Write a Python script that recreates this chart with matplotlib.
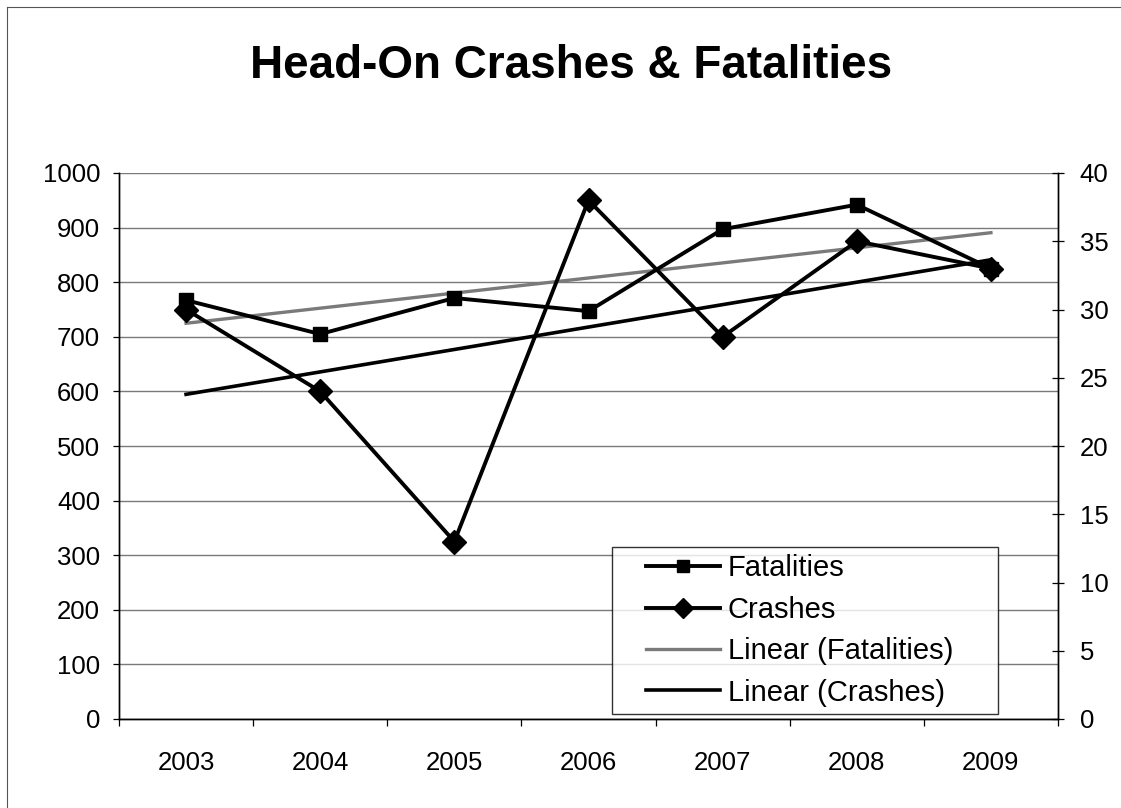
"""
Head-On Crashes & Fatalities, 2003-2009, two y axes with linear trend lines.
"""

import matplotlib
matplotlib.use('Agg')

import matplotlib.pyplot as plt
import numpy as np
from matplotlib.lines import Line2D
from matplotlib.legend_handler import HandlerLine2D

# --- Data ---
YEARS = ['2003', '2004', '2005', '2006', '2007', '2008', '2009']
FATALITIES = [767, 705, 771, 747, 897, 942, 825]   # left axis
CRASHES = [30, 24, 13, 38, 28, 35, 33]              # right axis

LEFT_TICKS = list(range(0, 1001, 100))
RIGHT_TICKS = list(range(0, 41, 5))

W, H = 1121, 808
plt.rcParams['font.family'] = ['Liberation Sans', 'DejaVu Sans']

fig = plt.figure(figsize=(W / 100, H / 100), dpi=100)
fig.patch.set_facecolor('white')

# plot area in pixels: x 119..1058, y 173..719
ax = fig.add_axes([119 / W, 1 - 719 / H, (1058 - 119) / W, (719 - 173) / H])
ax2 = ax.twinx()

x = np.arange(len(YEARS))

# --- series ---
ax.plot(x, FATALITIES, '-s', color='black', lw=2.8, ms=10,
        mfc='black', mec='black', label='Fatalities', zorder=4)
ax2.plot(x, CRASHES, '-D', color='black', lw=2.8, ms=12.5,
         mfc='black', mec='black', label='Crashes', zorder=4)

# Excel-style linear trend lines
fit_f = np.polyfit(x, FATALITIES, 1)
fit_c = np.polyfit(x, CRASHES, 1)
ax.plot(x, np.polyval(fit_f, x), color='#7a7a7a', lw=2.4,
        label='Linear (Fatalities)', zorder=3)
ax2.plot(x, np.polyval(fit_c, x), color='black', lw=2.6,
         label='Linear (Crashes)', zorder=3)

# --- axes ---
ax.set_xlim(-0.5, len(YEARS) - 0.5)
ax.set_ylim(0, 1000)
ax2.set_ylim(0, 40)

ax.set_yticks(LEFT_TICKS)
ax.set_yticklabels([str(v) for v in LEFT_TICKS])
ax2.set_yticks(RIGHT_TICKS)
ax2.set_yticklabels([str(v) for v in RIGHT_TICKS])

# category ticks between years, labels centred on years
ax.set_xticks(np.arange(-0.5, len(YEARS), 1.0))
ax.set_xticklabels([])
ax.set_xticks(x, minor=True)
ax.set_xticklabels(YEARS, minor=True)
ax.tick_params(axis='x', which='major', direction='out', length=5,
               width=0.9, color='black')
ax.tick_params(axis='x', which='minor', length=0, pad=23, labelsize=18.5)

ax.tick_params(axis='y', direction='out', length=4.5, width=0.9,
               pad=9, labelsize=18.5)
ax2.tick_params(axis='y', direction='inout', length=9, width=0.9,
                pad=11, labelsize=18.5)

ax.grid(True, axis='y', color='#7a7a7a', lw=1.0)
ax.set_axisbelow(True)

for a in (ax, ax2):
    a.spines['top'].set_visible(False)
    for s in ('left', 'right', 'bottom'):
        a.spines[s].set_color('black')
        a.spines[s].set_linewidth(1.0)
ax2.patch.set_visible(False)

# --- legend ---
handles = ax.get_lines()[:1] + ax2.get_lines()[:1] + \
    ax.get_lines()[1:2] + ax2.get_lines()[1:2]
leg = ax2.legend(handles=handles,
                 labels=[h.get_label() for h in handles],
                 loc='upper left',
                 bbox_to_anchor=(612 / W, 1 - 547 / H, (998 - 612) / W, 0.0),
                 bbox_transform=fig.transFigure, mode='expand',
                 fontsize=21, frameon=True, fancybox=False, shadow=False,
                 borderaxespad=0, borderpad=0.25, labelspacing=0.46,
                 handlelength=3.45, handletextpad=0.27, markerscale=0.8,
                 handler_map={Line2D: HandlerLine2D(xpad=0.93)})
leg.get_frame().set_edgecolor('black')
leg.get_frame().set_linewidth(1.0)
leg.get_frame().set_facecolor('white')
leg.set_zorder(10)

# --- title ---
fig.text(571 / W, 1 - 78 / H, 'Head-On Crashes & Fatalities',
         ha='center', va='baseline', fontsize=33, fontweight='bold')

# chart border (top and left edges visible in the scan)
fig.add_artist(Line2D([7 / W, 1], [1 - 7 / H, 1 - 7 / H],
                      transform=fig.transFigure, color='#555555', lw=0.8))
fig.add_artist(Line2D([7 / W, 7 / W], [0, 1 - 7 / H],
                      transform=fig.transFigure, color='#555555', lw=0.8))

fig.savefig('out.png', dpi=100)
plt.close(fig)
